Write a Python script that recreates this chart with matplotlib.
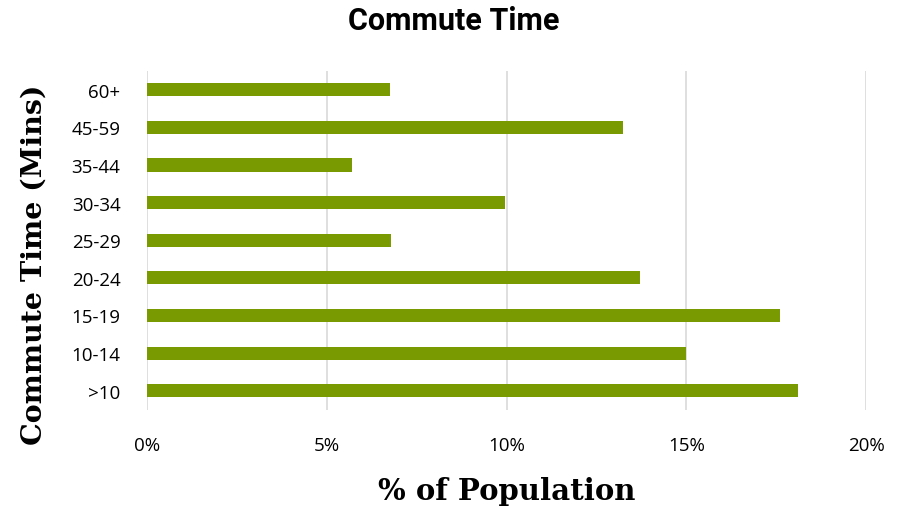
import matplotlib.pyplot as plt
from matplotlib.ticker import PercentFormatter

categories = ['>10', '10-14', '15-19', '20-24', '25-29', '30-34', '35-44', '45-59', '60+']
share = [18.1, 15.0, 17.6, 13.7, 6.8, 9.95, 5.7, 13.25, 6.75]

fig = plt.figure(figsize=(9.07, 5.1), dpi=100)
ax = fig.add_axes([0.162, 0.195, 0.793, 0.664])

ax.barh(categories, share, height=0.35, color='#7a9a01', zorder=3)
ax.set_xlim(0, 20)
ax.set_ylim(-0.5, len(categories) - 0.5)
ax.set_xticks([0, 5, 10, 15, 20])
ax.xaxis.set_major_formatter(PercentFormatter(decimals=0))
ax.grid(axis='x', color='#d9d9d9', linewidth=1.2, zorder=0)
for s in ['top', 'bottom', 'left', 'right']:
    ax.spines[s].set_visible(False)
ax.tick_params(length=0, labelsize=13.5)
ax.tick_params(axis='x', pad=19)
ax.tick_params(axis='y', pad=19)
for lab in ax.get_xticklabels() + ax.get_yticklabels():
    lab.set_family('Open Sans')

ax.set_xlabel('% of Population', family='DejaVu Serif', fontweight='bold',
              fontsize=21)
ax.set_ylabel('Commute Time (Mins)', family='DejaVu Serif', fontweight='bold',
              fontsize=20.5)
ax.xaxis.set_label_coords(0.5, -0.195)
ax.yaxis.set_label_coords(-0.138, 0.43)
fig.text(0.5, 0.958, 'Commute Time', ha='center', va='center',
         family='Roboto', fontweight='bold', fontsize=22)

fig.savefig('out.png')
